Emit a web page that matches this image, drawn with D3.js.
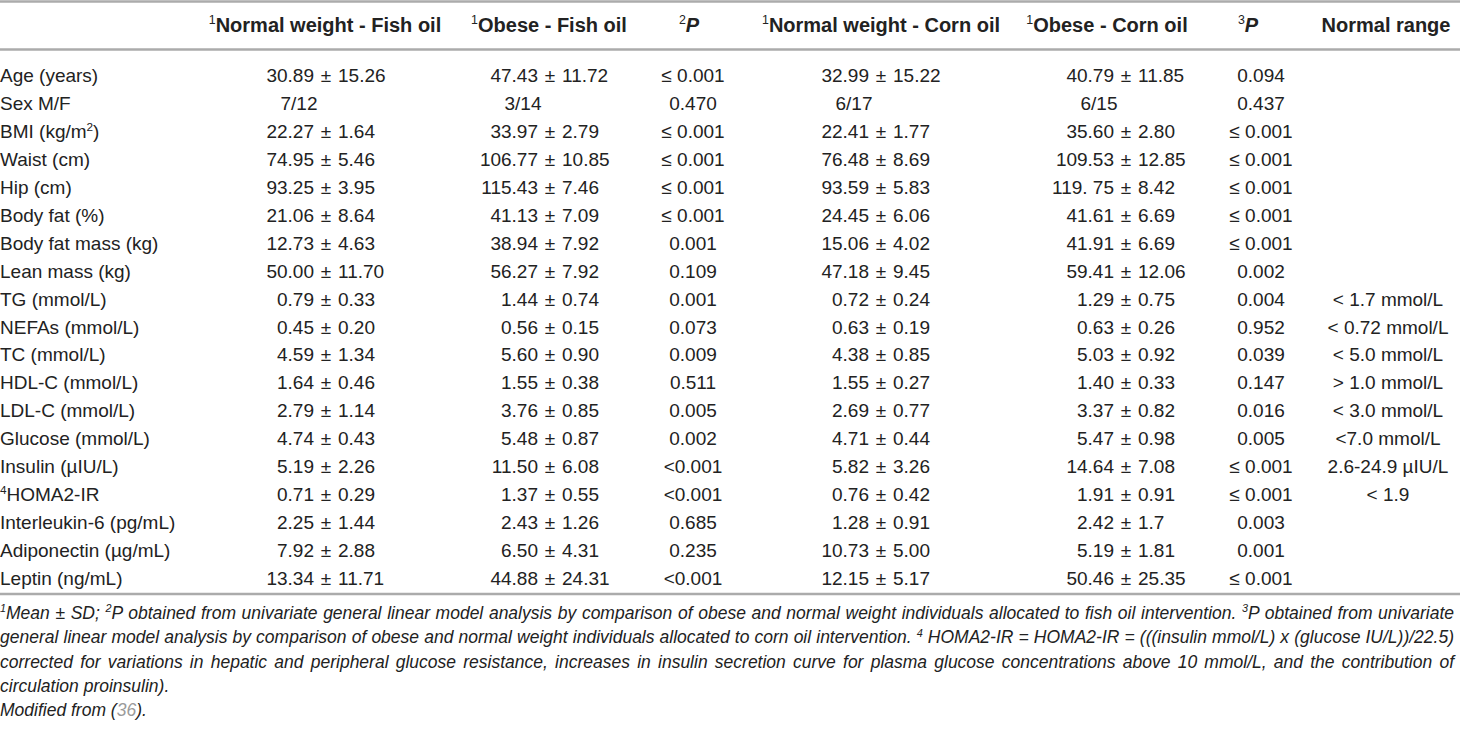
<!DOCTYPE html>
<html>
<head>
<meta charset="utf-8">
<script src="https://cdn.jsdelivr.net/npm/d3@7"></script>
<style>
  body { margin: 0; background: #fff; }
  svg { display: block; }
</style>
</head>
<body>
<div id="table"></div>
<script>
var rowLabels = ["Age (years)", "Sex M/F", "BMI (kg/m^2)", "Waist (cm)", "Hip (cm)", "Body fat (%)",
  "Body fat mass (kg)", "Lean mass (kg)", "TG (mmol/L)", "NEFAs (mmol/L)", "TC (mmol/L)", "HDL-C (mmol/L)",
  "LDL-C (mmol/L)", "Glucose (mmol/L)", "Insulin (µIU/L)", "^4HOMA2-IR", "Interleukin-6 (pg/mL)",
  "Adiponectin (µg/mL)", "Leptin (ng/mL)"];

var headers = ["^1Normal weight - Fish oil", "^1Obese - Fish oil", "^2P", "^1Normal weight - Corn oil",
  "^1Obese - Corn oil", "^3P", "Normal range"];

var fishNormalMean = ["30.89", null, "22.27", "74.95", "93.25", "21.06", "12.73", "50.00", "0.79", "0.45",
  "4.59", "1.64", "2.79", "4.74", "5.19", "0.71", "2.25", "7.92", "13.34"];
var fishNormalSD = ["15.26", null, "1.64", "5.46", "3.95", "8.64", "4.63", "11.70", "0.33", "0.20",
  "1.34", "0.46", "1.14", "0.43", "2.26", "0.29", "1.44", "2.88", "11.71"];
var fishObeseMean = ["47.43", null, "33.97", "106.77", "115.43", "41.13", "38.94", "56.27", "1.44", "0.56",
  "5.60", "1.55", "3.76", "5.48", "11.50", "1.37", "2.43", "6.50", "44.88"];
var fishObeseSD = ["11.72", null, "2.79", "10.85", "7.46", "7.09", "7.92", "7.92", "0.74", "0.15",
  "0.90", "0.38", "0.85", "0.87", "6.08", "0.55", "1.26", "4.31", "24.31"];
var fishP = ["≤ 0.001", "0.470", "≤ 0.001", "≤ 0.001", "≤ 0.001", "≤ 0.001", "0.001", "0.109", "0.001",
  "0.073", "0.009", "0.511", "0.005", "0.002", "<0.001", "<0.001", "0.685", "0.235", "<0.001"];

var cornNormalMean = ["32.99", null, "22.41", "76.48", "93.59", "24.45", "15.06", "47.18", "0.72", "0.63",
  "4.38", "1.55", "2.69", "4.71", "5.82", "0.76", "1.28", "10.73", "12.15"];
var cornNormalSD = ["15.22", null, "1.77", "8.69", "5.83", "6.06", "4.02", "9.45", "0.24", "0.19",
  "0.85", "0.27", "0.77", "0.44", "3.26", "0.42", "0.91", "5.00", "5.17"];
var cornObeseMean = ["40.79", null, "35.60", "109.53", "119. 75", "41.61", "41.91", "59.41", "1.29", "0.63",
  "5.03", "1.40", "3.37", "5.47", "14.64", "1.91", "2.42", "5.19", "50.46"];
var cornObeseSD = ["11.85", null, "2.80", "12.85", "8.42", "6.69", "6.69", "12.06", "0.75", "0.26",
  "0.92", "0.33", "0.82", "0.98", "7.08", "0.91", "1.7", "1.81", "25.35"];
var cornP = ["0.094", "0.437", "≤ 0.001", "≤ 0.001", "≤ 0.001", "≤ 0.001", "≤ 0.001", "0.002", "0.004",
  "0.952", "0.039", "0.147", "0.016", "0.005", "≤ 0.001", "≤ 0.001", "0.003", "0.001", "≤ 0.001"];

var normalRange = ["", "", "", "", "", "", "", "", "< 1.7 mmol/L", "< 0.72 mmol/L", "< 5.0 mmol/L",
  "> 1.0 mmol/L", "< 3.0 mmol/L", "<7.0 mmol/L", "2.6-24.9 µIU/L", "< 1.9", "", "", ""];

// sex M/F counts per group column
var sexCounts = ["7/12", "3/14", "6/17", "6/15"];

var footnotes = [
  "^1Mean ± SD; ^2P obtained from univariate general linear model analysis by comparison of obese and normal weight individuals allocated to fish oil intervention. ^3P obtained from univariate",
  "general linear model analysis by comparison of obese and normal weight individuals allocated to corn oil intervention. ^4 HOMA2-IR = HOMA2-IR = (((insulin mmol/L) x (glucose IU/L))/22.5)",
  "corrected for variations in hepatic and peripheral glucose resistance, increases in insulin secretion curve for plasma glucose concentrations above 10 mmol/L, and the contribution of",
  "circulation proinsulin).",
  "Modified from (~36~)."
];

// ---- layout ----
var width = 1460, height = 729;
var font = "'Liberation Sans', Arial, Helvetica, sans-serif";
var ink = "#222";
var ruleColor = "#ababab";
var bodySize = 19, headSize = 20, noteSize = 18;

var headerX = [325, 549, 689, 881, 1107, 1248, 1386];
var pmGap = 12;   // space between the number and the ± sign

var svg = d3.select("#table").append("svg")
  .attr("width", width)
  .attr("height", height);

svg.append("rect").attr("width", width).attr("height", height).attr("fill", "#fff");

var y = d3.scaleBand().domain(d3.range(rowLabels.length)).range([62, 592]);
function baseline(i) { return y(i) + y.bandwidth() / 2 + 6.5; }

// writes a string with ^x superscripts and ~grey~ parts into a text element
function rich(sel, str, size, opts) {
  opts = opts || {};
  sel.selectAll("tspan").remove();
  var shift = 0;
  var parts = str.split(/(\^\S|~[^~]*~)/);
  parts.forEach(function(p) {
    if (p === "") return;
    var t = sel.append("tspan");
    if (p.charAt(0) === "^") {
      t.text(p.slice(1)).attr("font-size", size * 0.62).attr("font-weight", "normal")
        .attr("dy", -size * 0.38 - shift);
      shift = -size * 0.38;
    } else {
      var txt = p;
      if (p.charAt(0) === "~") { txt = p.slice(1, -1); t.attr("fill", "#9a9a9a"); }
      t.text(txt).attr("font-size", size).attr("dy", -shift);
      if (opts.italicP && txt === "P") t.attr("font-style", "italic");
      shift = 0;
    }
  });
  return sel;
}

// ---- rules ----
[1.5, 49.5, 594].forEach(function(ry) {
  svg.append("line")
    .attr("x1", 0).attr("x2", width)
    .attr("y1", ry).attr("y2", ry)
    .attr("stroke", ruleColor)
    .attr("stroke-width", 2.5);
});

// ---- header ----
svg.append("g").selectAll("text")
  .data(headers)
  .join("text")
  .attr("x", function(d, i) { return headerX[i]; })
  .attr("y", 32)
  .attr("text-anchor", "middle")
  .attr("font-family", font)
  .attr("font-weight", "bold")
  .attr("fill", ink)
  .each(function(d) { rich(d3.select(this), d, headSize, { italicP: true }); });

// ---- row labels ----
svg.append("g").selectAll("text")
  .data(rowLabels)
  .join("text")
  .attr("x", 0)
  .attr("y", function(d, i) { return baseline(i); })
  .attr("font-family", font)
  .attr("fill", ink)
  .each(function(d) { rich(d3.select(this), d, bodySize); });

// ---- mean ± SD columns ----
var groups = [
  { x: 326, mean: fishNormalMean, sd: fishNormalSD, sex: sexCounts[0] },
  { x: 550, mean: fishObeseMean, sd: fishObeseSD, sex: sexCounts[1] },
  { x: 881, mean: cornNormalMean, sd: cornNormalSD, sex: sexCounts[2] },
  { x: 1126, mean: cornObeseMean, sd: cornObeseSD, sex: sexCounts[3] }
];

groups.forEach(function(g) {
  var col = svg.append("g")
    .attr("font-family", font)
    .attr("font-size", bodySize)
    .attr("fill", ink);
  var cells = col.selectAll("g")
    .data(g.mean.map(function(m, i) { return { i: i, mean: m, sd: g.sd[i] }; }))
    .join("g");

  cells.filter(function(d) { return d.mean !== null; }).each(function(d) {
    var c = d3.select(this);
    var by = baseline(d.i);
    c.append("text").attr("x", g.x - pmGap).attr("y", by).attr("text-anchor", "end").text(d.mean);
    c.append("text").attr("x", g.x).attr("y", by).attr("text-anchor", "middle").text("±");
    c.append("text").attr("x", g.x + pmGap).attr("y", by).attr("text-anchor", "start").text(d.sd);
  });

  cells.filter(function(d) { return d.mean === null; })
    .append("text")
    .attr("x", g.x - 27)
    .attr("y", function(d) { return baseline(d.i); })
    .attr("text-anchor", "middle")
    .text(g.sex);
});

// ---- P and normal range columns ----
[{ x: 693, vals: fishP }, { x: 1261, vals: cornP }, { x: 1388, vals: normalRange }].forEach(function(c) {
  svg.append("g").selectAll("text")
    .data(c.vals)
    .join("text")
    .attr("x", c.x)
    .attr("y", function(d, i) { return baseline(i); })
    .attr("text-anchor", "middle")
    .attr("font-family", font)
    .attr("font-size", bodySize)
    .attr("fill", ink)
    .text(function(d) { return d; });
});

// ---- footnote: first three lines justified by word spacing ----
var noteWidth = width - 6;
var noteY = d3.scaleLinear().domain([0, footnotes.length - 1]).range([619, 716]);
var notes = svg.append("g").selectAll("text")
  .data(footnotes)
  .join("text")
  .attr("x", 0)
  .attr("y", function(d, i) { return noteY(i); })
  .attr("font-family", font)
  .attr("font-style", "italic")
  .attr("fill", ink)
  .each(function(d) { rich(d3.select(this), d, noteSize); });

// shrink the size until the longest justified line fits
var widest = d3.max(notes.nodes().slice(0, 3), function(n) { return n.getComputedTextLength(); });
if (widest > noteWidth) {
  noteSize = Math.floor(noteSize * noteWidth / widest * 10) / 10;
  notes.each(function(d) { rich(d3.select(this), d, noteSize); });
}
notes.each(function(d, i) {
  if (i > 2) return;
  var gaps = d.split(" ").length - 1;
  var w = this.getComputedTextLength();
  d3.select(this).style("word-spacing", ((noteWidth - w) / gaps) + "px");
});
</script>
</body>
</html>
